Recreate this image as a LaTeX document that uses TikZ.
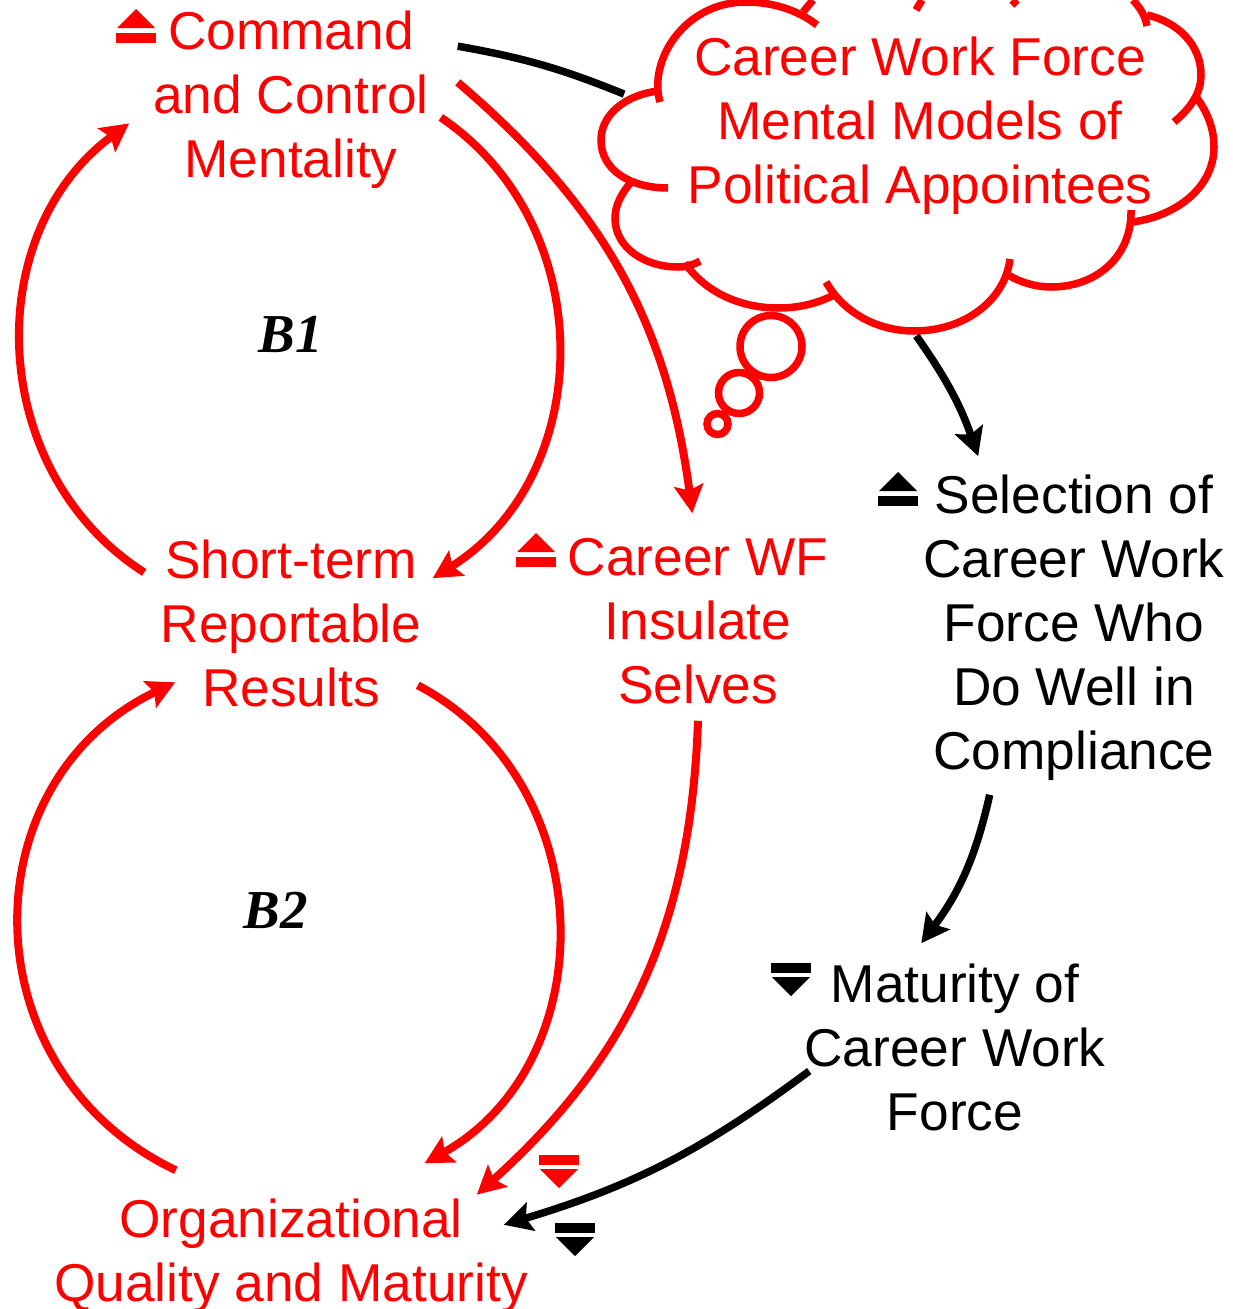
\documentclass[tikz,border=0pt]{standalone}
\usepackage{fontspec}
\setmainfont{Liberation Sans}
\newfontfamily\loopfont{Liberation Serif}
\usetikzlibrary{arrows.meta}
\tikzset{
    label/.style={inner sep=0pt,align=center,text depth=0pt,font=\fontsize{15.15}{18.2}\selectfont},
    redlabel/.style={label,text=red},
    blacklabel/.style={label,text=black},
    flow/.style={line width=0.8mm,-{Stealth[length=2.8mm,width=2.9mm,inset=0.5mm]}},
    redflow/.style={flow,red},
    blackflow/.style={flow,black,line width=0.75mm},
    cloudline/.style={red,line width=0.75mm},
    loopname/.style={inner sep=0pt,font=\fontsize{15.6}{18}\loopfont\bfseries\itshape},
    upmark/.pic={
        \fill (-19,19) -- (0,0) -- (19,19) -- cycle;
        \fill (-20,24) rectangle (20,34);
    },
    downmark/.pic={
        \fill (-20,0) rectangle (20,10);
        \fill (-19,14) -- (0,33) -- (19,14) -- cycle;
    },
}
\begin{document}
\begin{tikzpicture}[x=0.01cm,y=-0.01cm]
        \useasboundingbox (0,0) rectangle (1232,1309);
        %% cloud
        \draw[cloudline] (660,102) .. controls (648,60) and (685,2) .. (746,2) .. controls (772,2) and (798,10) .. (817,25);
        \draw[cloudline] (658,91) .. controls (625,95) and (601,115) .. (601,140) .. controls (601,170) and (630,188) .. (668,188);
        \draw[cloudline] (633,180) .. controls (622,192) and (615,205) .. (615,218) .. controls (615,248) and (645,267) .. (678,267) .. controls (686,267) and (693,265) .. (700,261);
        \draw[cloudline] (685,263) .. controls (705,292) and (740,308) .. (778,308) .. controls (800,308) and (818,303) .. (834,295);
        \draw[cloudline] (826,282) .. controls (845,315) and (880,331) .. (914,331) .. controls (965,331) and (1005,300) .. (1010,259);
        \draw[cloudline] (1008,275) .. controls (1020,282) and (1035,287) .. (1051,287) .. controls (1095,287) and (1132,258) .. (1131,210);
        \draw[cloudline] (1133,222) .. controls (1180,215) and (1214,185) .. (1214,147) .. controls (1214,128) and (1207,112) .. (1197,98);
        \draw[cloudline] (1174,122) .. controls (1192,107) and (1201,92) .. (1201,75) .. controls (1201,45) and (1178,22) .. (1147,15);
        \draw[cloudline] (1133,0) .. controls (1140,8) and (1145,15) .. (1147,26);
        \draw[cloudline] (803,12) -- (813,0);
        \draw[cloudline] (916,10) -- (922,0);
        \draw[cloudline] (1012,0) -- (1017,5);
        %% thought bubbles
        \draw[cloudline] (771,346.5) circle (31);
        \draw[cloudline] (739,393) circle (20.5);
        \draw[cloudline] (717.5,424) circle (10.5);
        %% labels
        \node[redlabel,minimum width=3.32cm,minimum height=1.90cm] (cmdmind) at (291,94) {Command\\and Control\\Mentality};
        \node[redlabel,minimum width=2.92cm,minimum height=2.10cm] (shortres) at (291,623) {Short-term\\Reportable\\Results};
        \node[redlabel,minimum width=4.78cm,minimum height=1.72cm] (orgqual) at (291,1250) {Organizational\\Quality and Maturity};
        \node[redlabel,minimum width=2.70cm,minimum height=2.14cm] (insulate) at (698,621) {Career WF\\Insulate\\Selves};
        \node[blacklabel,minimum width=3.04cm,minimum height=3.44cm] (selection) at (1074,622) {Selection of\\Career Work\\Force Who\\Do Well in\\Compliance};
        \node[blacklabel,minimum width=3.02cm,minimum height=2.06cm] (maturity) at (955,1047) {Maturity of\\Career Work\\Force};
        \node[redlabel,minimum width=5.90cm,minimum height=4.30cm] (cloudtext) at (920,120) {Career Work Force\\Mental Models of\\Political Appointees};
        \node[loopname] (bone) at (291,334) {B1};
        \node[loopname] (btwo) at (276,910) {B2};
        %% direction marks
        \pic[red] at (136,9) {upmark};
        \pic[red] at (536,533) {upmark};
        \pic[black] at (898,472) {upmark};
        \pic[black] at (791,963) {downmark};
        \pic[red] at (559,1155) {downmark};
        \pic[black] at (575,1223) {downmark};
        %% loop B1
        \draw[redflow] (shortres.161.4) to[bend left=55.5,looseness=1.06] ([xshift=0.05cm]cmdmind.190.9);
        \draw[redflow] ([xshift=-0.17cm]cmdmind.-8.5) to[bend left=57,looseness=1.07] ([xshift=-0.05cm]shortres.17.8);
        %% loop B2
        \draw[redflow] ([yshift=-0.07cm]orgqual.143.9) to[bend left=64.5,looseness=1.21] ([xshift=0.31cm]shortres.202);
        \draw[redflow] ([xshift=-0.20cm]shortres.-23.7) to[bend left=61.5,looseness=1.11] (orgqual.33.3);
        %% side links
        \draw[redflow] (cmdmind.4.5) to[bend left=21] (insulate.93.2);
        \draw[redflow] ([yshift=0.08cm]insulate.south) to[bend left=23] ([xshift=-0.54cm]orgqual.13);
        \draw[blackflow,-] (cmdmind.16.4) to[bend left=6] (cloudtext.175.7);
        \draw[blackflow] (cloudtext.269) to[bend left=8] ([yshift=-0.07cm]selection.119.9);
        \draw[blackflow] (selection.244.5) to[bend left=12] (maturity.108.3);
        \draw[blackflow] ([xshift=0.06cm]maturity.189.4) to[bend left=10] ([xshift=-0.27cm]orgqual.6);
    \end{tikzpicture}
\end{document}
